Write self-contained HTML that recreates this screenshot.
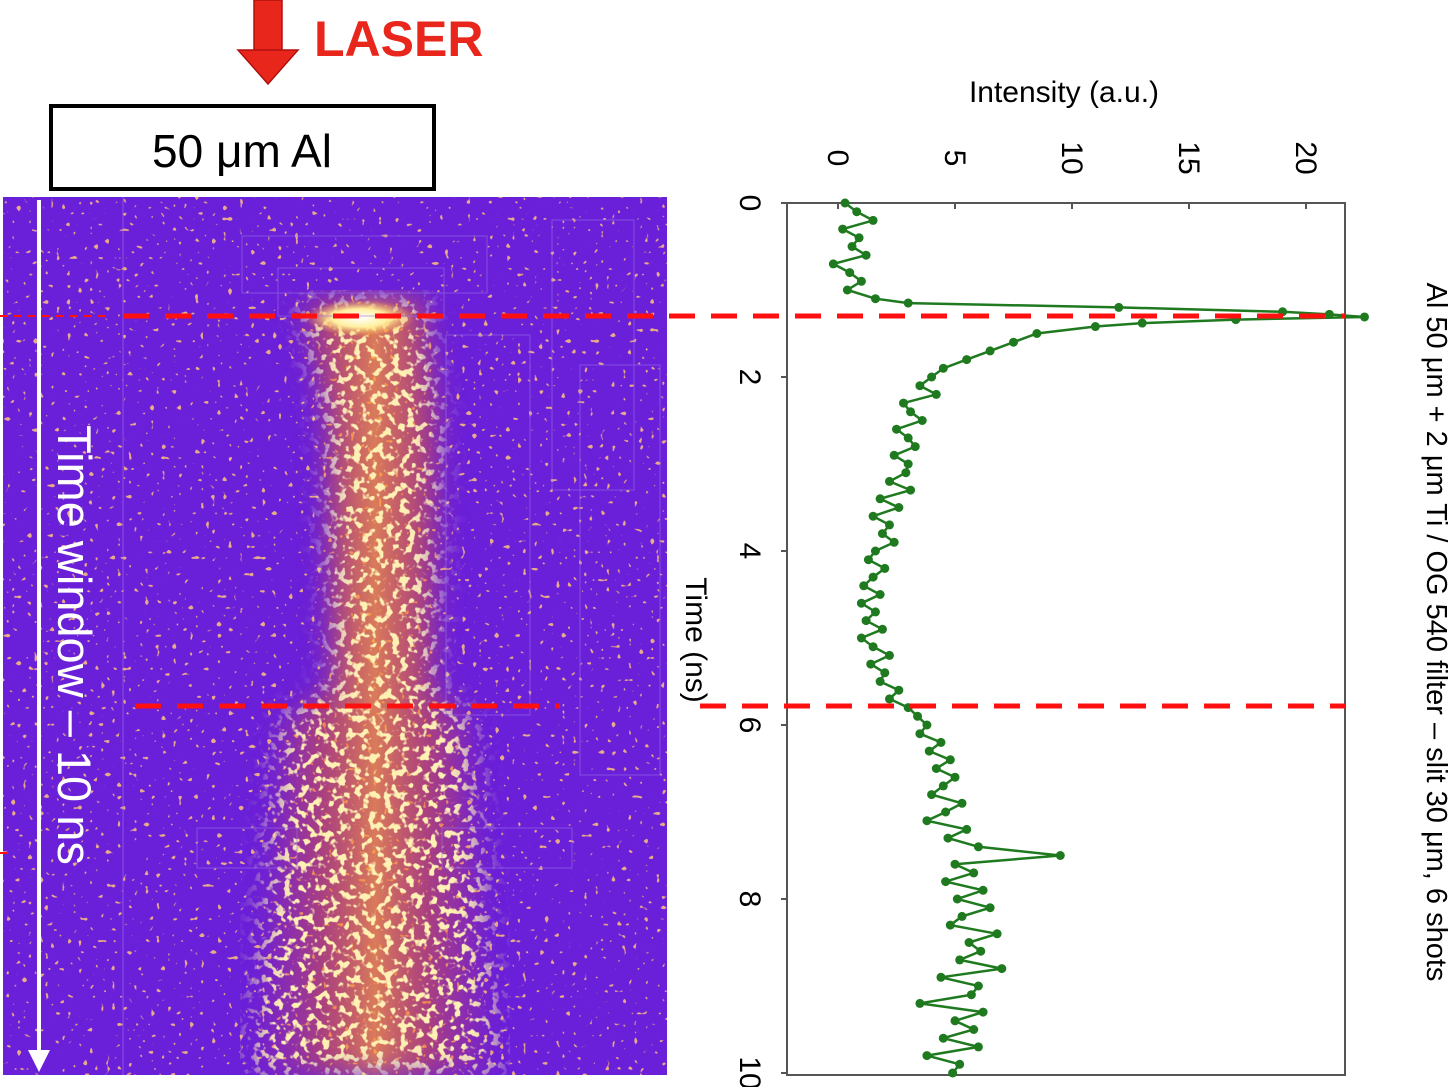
<!DOCTYPE html>
<html><head><meta charset="utf-8"><style>
html,body{margin:0;padding:0;background:#fff;}
body{width:1454px;height:1087px;position:relative;overflow:hidden;font-family:"Liberation Sans",sans-serif;}
</style></head><body>
<svg width="1454" height="1087" viewBox="0 0 1454 1087" style="position:absolute;left:0;top:0">
<defs>
  <filter id="speck" x="0" y="0" width="100%" height="100%">
    <feTurbulence type="fractalNoise" baseFrequency="0.18" numOctaves="1" seed="7" result="n"/>
    <feColorMatrix in="n" type="matrix" values="0 0 0 0 1  0 0 0 0 0.55  0 0 0 0 0.2  0 0 0 20 -13.6"/>
  </filter>
  <filter id="speck2" x="0" y="0" width="100%" height="100%">
    <feTurbulence type="fractalNoise" baseFrequency="0.13" numOctaves="2" seed="3" result="n"/>
    <feColorMatrix in="n" type="matrix" values="0 0 0 0 1  0 0 0 0 0.88  0 0 0 0 0.45  0 0 0 10 -5.4"/>
  </filter>
  <filter id="blur" x="-20%" y="-5%" width="140%" height="110%"><feGaussianBlur stdDeviation="14"/></filter>
  <linearGradient id="colg" x1="0" x2="1" y1="0" y2="0">
    <stop offset="0" stop-color="#d03a70" stop-opacity="0"/>
    <stop offset="0.3" stop-color="#e8602a" stop-opacity="0.5"/>
    <stop offset="0.5" stop-color="#ff9a30" stop-opacity="0.75"/>
    <stop offset="0.7" stop-color="#e8602a" stop-opacity="0.5"/>
    <stop offset="1" stop-color="#d03a70" stop-opacity="0"/>
  </linearGradient>
  <mask id="colmask" maskUnits="userSpaceOnUse" x="0" y="197" width="667" height="878">
    <polygon points="300,300 425,300 440,420 435,690 470,720 500,1075 250,1075 280,720 330,690 325,420" fill="#fff" filter="url(#blur)"/>
  </mask>
  <radialGradient id="hot" cx="0.5" cy="0.5" r="0.5">
    <stop offset="0" stop-color="#ffffff"/><stop offset="0.5" stop-color="#fff0a0"/><stop offset="1" stop-color="#ffb040" stop-opacity="0"/>
  </radialGradient>
  <clipPath id="imgclip"><rect x="3" y="197" width="664" height="878"/></clipPath>
</defs>

<g clip-path="url(#imgclip)">
  <rect x="3" y="197" width="664" height="878" fill="#6a1fd8"/>
  <rect x="3" y="197" width="664" height="878" filter="url(#speck)" opacity="0.85"/>
  <g mask="url(#colmask)">
    <rect x="240" y="290" width="270" height="790" fill="url(#colg)"/>
    <rect x="240" y="290" width="270" height="790" filter="url(#speck2)"/>
  </g>
  <ellipse cx="360" cy="318" rx="55" ry="18" fill="url(#hot)"/>
  <g fill="none" stroke="#9a70e8" stroke-width="1" opacity="0.6">
    <rect x="242" y="236" width="245" height="57"/>
    <rect x="278" y="268" width="166" height="48"/>
    <rect x="123" y="197" width="0.1" height="878"/>
    <rect x="446" y="335" width="84" height="380"/>
    <rect x="552" y="220" width="82" height="270"/>
    <rect x="580" y="365" width="80" height="410"/>
    <rect x="197" y="828" width="100" height="40"/>
    <rect x="442" y="828" width="130" height="40"/>
  </g>
</g>

<g>
  <line x1="39" y1="200" x2="39" y2="1058" stroke="#fff" stroke-width="4"/>
  <polygon points="28,1050 50,1050 39,1072" fill="#fff"/>
</g>
<text transform="translate(58,645) rotate(90)" text-anchor="middle" font-size="47" fill="#fff" font-family="Liberation Sans, sans-serif">Time window – 10 ns</text>

<g>
  <rect x="254" y="0" width="28" height="52" fill="#e8261c" stroke="#b01010" stroke-width="1.5"/>
  <polygon points="238,50 298,50 268,84" fill="#e8261c" stroke="#b01010" stroke-width="1.5"/>
</g>
<text x="314" y="56" font-size="50" font-weight="bold" fill="#e8261c" font-family="Liberation Sans, sans-serif">LASER</text>
<g>
  <rect x="51" y="106" width="383" height="83" fill="#fff" stroke="#000" stroke-width="4"/>
  <text x="242" y="167" text-anchor="middle" font-size="46" fill="#000" font-family="Liberation Sans, sans-serif">50 μm Al</text>
</g>

<g id="chart"></g>

<g stroke="#ff1010" stroke-width="5" stroke-dasharray="26,16">
  <line x1="123" y1="316" x2="1345" y2="316"/>
  <line x1="135" y1="706" x2="560" y2="706"/>
  <line x1="700" y1="706" x2="1345" y2="706"/>
</g>
<g stroke="#ff1010" stroke-width="2" stroke-dasharray="8,6">
  <line x1="0" y1="316" x2="110" y2="316"/>
  <line x1="0" y1="853" x2="8" y2="853"/>
</g>

<text x="1064" y="102" text-anchor="middle" font-size="30" fill="#000" font-family="Liberation Sans, sans-serif">Intensity (a.u.)</text>
<text transform="translate(686,640) rotate(90)" text-anchor="middle" font-size="30" fill="#000" font-family="Liberation Sans, sans-serif">Time (ns)</text>
<text transform="translate(1427,632) rotate(90)" text-anchor="middle" font-size="29" fill="#000" font-family="Liberation Sans, sans-serif">Al 50 μm + 2 μm Ti / OG 540 filter – slit 30 μm, 6 shots</text>
</svg>

<script>
const times = [0.0,0.1,0.2,0.3,0.4,0.5,0.6,0.7,0.8,0.9,1.0,1.1,1.15,1.2,1.25,1.28,1.31,1.34,1.38,1.42,1.5,1.6,1.7,1.8,1.9,2.0,
2.1,2.2,2.3,2.4,2.5,2.6,2.7,2.8,2.9,3.0,3.1,3.2,3.3,3.4,3.5,3.6,3.7,3.8,3.9,4.0,4.1,4.2,4.3,4.4,4.5,4.6,4.7,4.8,4.9,5.0,
5.1,5.2,5.3,5.4,5.5,5.6,5.7,5.8,5.9,6.0,6.1,6.2,6.3,6.4,6.5,6.6,6.7,6.8,6.9,7.0,7.1,7.2,7.3,7.4,7.5,7.6,7.7,7.8,7.9,8.0,
8.1,8.2,8.3,8.4,8.5,8.6,8.7,8.8,8.9,9.0,9.1,9.2,9.3,9.4,9.5,9.6,9.7,9.8,9.9,10.0];
const intensity = [0.3,0.8,1.5,0.2,0.9,0.6,1.2,-0.2,0.5,1.0,0.4,1.6,3,12,19,21,22.5,17,13,11,8.5,7.5,6.5,5.5,4.5,4.0,
3.5,4.2,2.8,3.1,3.6,2.5,3.0,3.3,2.4,3.0,2.9,2.2,3.1,1.8,2.6,1.5,2.2,1.9,2.4,1.6,1.3,2.0,1.5,1.1,1.8,1.0,1.6,1.2,1.9,1.0,
1.5,2.2,1.4,2.0,1.8,2.6,2.2,3.0,3.4,3.8,3.5,4.4,3.9,4.8,4.2,5.0,4.5,4.0,5.3,4.6,3.8,5.5,4.7,6.0,9.5,5.0,5.8,4.6,6.2,5.1,
6.5,5.3,4.8,6.8,5.6,6.1,5.2,7.0,4.4,6.0,5.7,3.5,6.2,5.0,5.8,4.5,6.0,3.8,5.2,4.9];
const xTicks = [0,5,10,15,20];
const yTicks = [0,2,4,6,8,10];

const NS='http://www.w3.org/2000/svg';
const g=document.getElementById('chart');
const X0=787,X1=1345,Y0=203,Y1=1075;
const xs=v=>838+v*23.4;
const ys=t=>203+t*87;
function mk(tag,attrs,parent){const e=document.createElementNS(NS,tag);for(const k in attrs)e.setAttribute(k,attrs[k]);(parent||g).appendChild(e);return e;}

const frame=mk('rect',{x:X0,y:Y0,width:X1-X0,height:Y1-Y0,fill:'none',stroke:'#555','stroke-width':2});



xTicks.forEach(v=>{
  const t=mk('line',{x1:xs(v),x2:xs(v),y1:Y0,y2:Y0+6,stroke:'#555','stroke-width':2});
  
  
  const l=mk('text',{transform:`translate(${xs(v)-10},${Y0-45}) rotate(90)`,'text-anchor':'middle','font-size':30,fill:'#000','font-family':'Liberation Sans, sans-serif'});
  l.textContent=v;
  
  
});
yTicks.forEach(v=>{
  const t=mk('line',{x1:X0-6,x2:X0,y1:ys(v),y2:ys(v),stroke:'#555','stroke-width':2});
  
  
  const l=mk('text',{transform:`translate(${X0-47},${ys(v)}) rotate(90)`,'text-anchor':'middle','font-size':30,fill:'#000','font-family':'Liberation Sans, sans-serif'});
  l.textContent=v;
  
  
});

const pts=times.map((t,i)=>xs(intensity[i]).toFixed(1)+','+ys(t).toFixed(1)).join(' ');
const line=mk('polyline',{points:pts,fill:'none',stroke:'#1f7a1f','stroke-width':2.5});


times.forEach((t,i)=>{
  const c=mk('circle',{cx:xs(intensity[i]),cy:ys(t),r:4.5,fill:'#1f7a1f'});
  
  
});
</script>
</body></html>
